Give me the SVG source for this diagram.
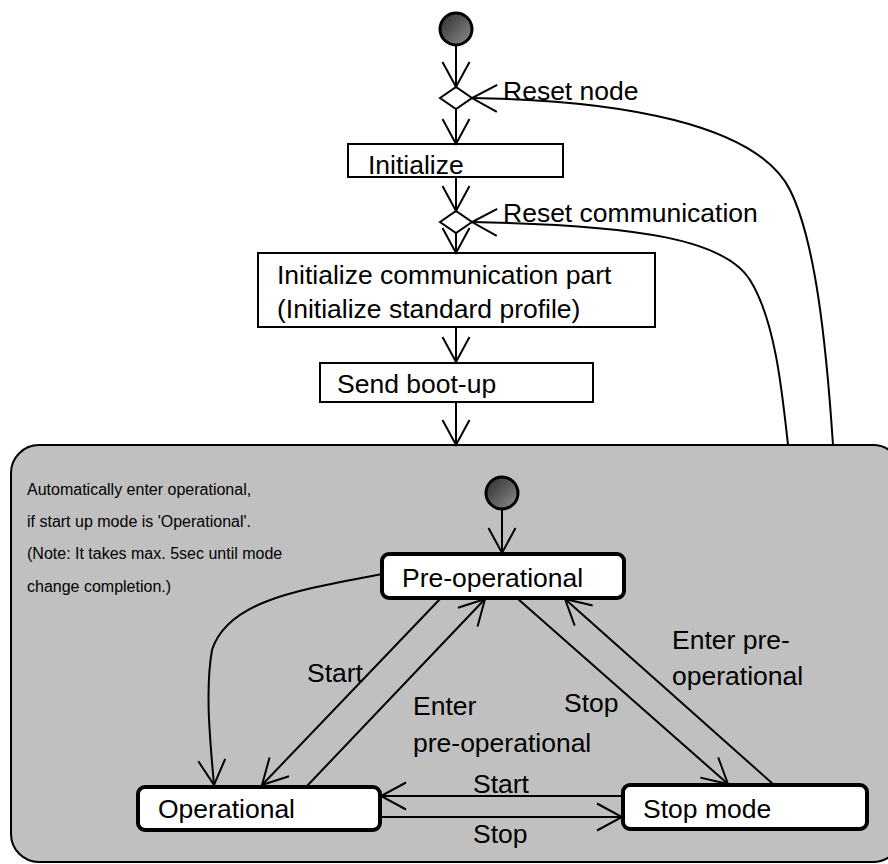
<svg xmlns="http://www.w3.org/2000/svg" width="888" height="864" viewBox="0 0 888 864">
<style>
text{font-family:"Liberation Sans",Arial,sans-serif;fill:#000}
.lbl{font-size:26.5px}
.note{font-size:16px}
.box{fill:#fff;stroke:#000;stroke-width:2}
.state{fill:#fff;stroke:#000;stroke-width:4}
.con{fill:none;stroke:#000;stroke-width:2;marker-end:url(#arr)}
.start{fill:url(#g);stroke:#000;stroke-width:3}
</style>
<defs>
<linearGradient id="g" x1="0" y1="0" x2="1" y2="1">
<stop offset="0" stop-color="#2a2a2a"/>
<stop offset="1" stop-color="#909090"/>
</linearGradient>
<marker id="arr" markerUnits="userSpaceOnUse" markerWidth="40" markerHeight="40" viewBox="-30 -20 40 40" refX="0" refY="0" orient="auto" overflow="visible">
<path d="M -25 -13.5 L 0 0 L -25 13.5" fill="none" stroke="#000" stroke-width="2"/>
</marker>
</defs>
<rect id="container" x="11" y="445" width="890" height="417" rx="28" ry="28" fill="#c0c0c0" stroke="#000" stroke-width="2"/>
<g id="init1"><circle class="start" cx="456" cy="29" r="16"/></g>
<g id="merge1"><polygon points="440,98 456,87 472,98 456,109" fill="#fff" stroke="#000" stroke-width="2"/></g>
<g id="initialize"><rect class="box" x="348" y="144" width="215" height="33"/><text class="lbl" x="368" y="174">Initialize</text></g>
<g id="merge2"><polygon points="440,222 456,211 472,222 456,233" fill="#fff" stroke="#000" stroke-width="2"/></g>
<g id="initcomm"><rect class="box" x="258" y="253" width="397" height="74"/><text class="lbl" x="277" y="284">Initialize communication part</text><text class="lbl" x="277" y="318">(Initialize standard profile)</text></g>
<g id="bootup"><rect class="box" x="320" y="363" width="273" height="39"/><text class="lbl" x="337" y="393">Send boot-up</text></g>
<g id="note"><text class="note" x="27" y="495">Automatically enter operational,</text><text class="note" x="27" y="527">if start up mode is 'Operational'.</text><text class="note" x="27" y="559">(Note: It takes max. 5sec until mode</text><text class="note" x="27" y="592">change completion.)</text></g>
<g id="init2"><circle class="start" cx="502" cy="493" r="16"/></g>
<g id="preop"><rect class="state" x="382" y="554" width="242" height="44" rx="7"/><text class="lbl" x="402" y="587">Pre-operational</text></g>
<g id="operational"><rect class="state" x="138" y="787" width="242" height="43" rx="7"/><text class="lbl" x="158" y="818">Operational</text></g>
<g id="stopmode"><rect class="state" x="623" y="785" width="244" height="44" rx="7"/><text class="lbl" x="643" y="818">Stop mode</text></g>
<g id="connectors">
<line class="con" x1="456" y1="45" x2="456" y2="87"/>
<line class="con" x1="456" y1="109" x2="456" y2="144"/>
<line class="con" x1="456" y1="177" x2="456" y2="211"/>
<line class="con" x1="456" y1="233" x2="456" y2="253"/>
<line class="con" x1="456" y1="327" x2="456" y2="362"/>
<line class="con" x1="456" y1="402" x2="456" y2="445"/>
<path class="con" d="M 833 445 C 826 340, 815 240, 790 190 C 757 124, 620 100, 472 98"/>
<path class="con" d="M 788 445 C 782 390, 775 320, 750 280 C 725 240, 640 225, 472 222"/>
<line class="con" x1="502" y1="509" x2="502" y2="553"/>
<path class="con" d="M 382 574 C 300 590, 228 600, 212 650 C 205 690, 210 740, 214 785"/>
<line class="con" x1="440" y1="599" x2="262" y2="785"/>
<line class="con" x1="307" y1="786" x2="485" y2="599"/>
<line class="con" x1="518" y1="599" x2="728" y2="784"/>
<line class="con" x1="773" y1="784" x2="565" y2="599"/>
<line class="con" x1="623" y1="796" x2="381" y2="796"/>
<line class="con" x1="380" y1="817" x2="622" y2="817"/>
</g>
<g id="labels">
<text class="lbl" x="503" y="100">Reset node</text>
<text class="lbl" x="503" y="222">Reset communication</text>
<text class="lbl" x="307" y="682">Start</text>
<text class="lbl" x="413" y="715">Enter</text>
<text class="lbl" x="413" y="752">pre-operational</text>
<text class="lbl" x="564" y="712">Stop</text>
<text class="lbl" x="672" y="649">Enter pre-</text>
<text class="lbl" x="672" y="685">operational</text>
<text class="lbl" x="473" y="793">Start</text>
<text class="lbl" x="473" y="843">Stop</text>
</g>
</svg>
